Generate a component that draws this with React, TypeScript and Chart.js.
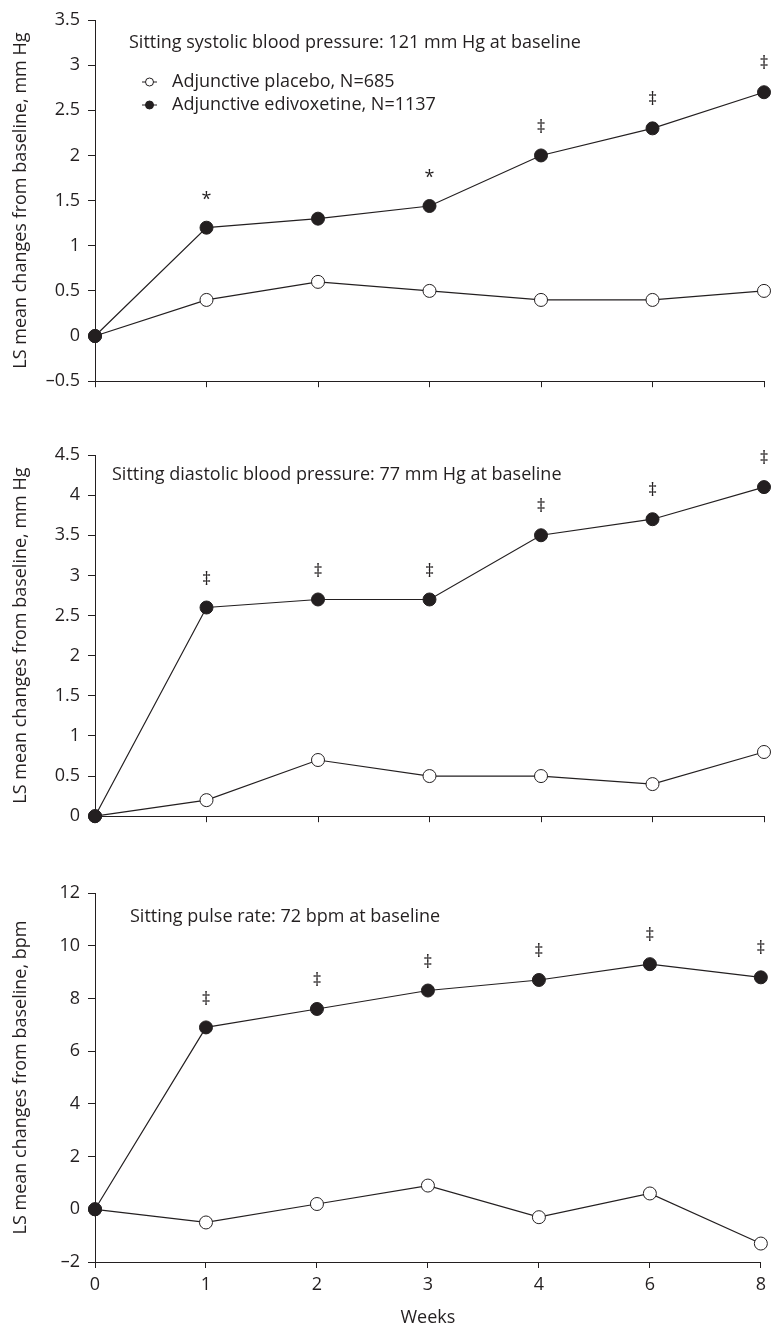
import React, { useEffect, useRef } from 'react';
import { Chart, registerables } from 'chart.js';
Chart.register(...registerables);

const weeks = ['0', '1', '2', '3', '4', '6', '8'];

const sysPlacebo = [0, 0.4, 0.6, 0.5, 0.4, 0.4, 0.5];
const sysEdivox = [0, 1.2, 1.3, 1.44, 2.0, 2.3, 2.7];
const sysMarks = ['', '*', '', '*', '‡', '‡', '‡'];

const diaPlacebo = [0, 0.2, 0.7, 0.5, 0.5, 0.4, 0.8];
const diaEdivox = [0, 2.6, 2.7, 2.7, 3.5, 3.7, 4.1];
const diaMarks = ['', '‡', '‡', '‡', '‡', '‡', '‡'];

const pulsePlacebo = [0, -0.5, 0.2, 0.9, -0.3, 0.6, -1.3];
const pulseEdivox = [0, 6.9, 7.6, 8.3, 8.7, 9.3, 8.8];
const pulseMarks = ['', '‡', '‡', '‡', '‡', '‡', '‡'];

const placeboLabel = 'Adjunctive placebo, N=685';
const edivoxLabel = 'Adjunctive edivoxetine, N=1137';

const INK = '#231f20';
const FONT = '"Open Sans", sans-serif';
const FS = 18;

type Panel = {
  title: string;
  yTitle: string;
  min: number;
  max: number;
  step: number;
  placebo: number[];
  edivox: number[];
  marks: string[];
  legend: boolean;
  xLabels: boolean;
  top: number;
  height: number;
  xAxisHeight: number;
  titleDx: number;
  titleDy: number;
};

const panels: Panel[] = [
  {
    title: 'Sitting systolic blood pressure: 121 mm Hg at baseline',
    yTitle: 'LS mean changes from baseline, mm Hg',
    min: -0.5, max: 3.5, step: 0.5,
    placebo: sysPlacebo, edivox: sysEdivox, marks: sysMarks,
    legend: true, xLabels: false,
    top: 0, height: 400, xAxisHeight: 12, titleDx: 34, titleDy: 23,
  },
  {
    title: 'Sitting diastolic blood pressure: 77 mm Hg at baseline',
    yTitle: 'LS mean changes from baseline, mm Hg',
    min: 0, max: 4.5, step: 0.5,
    placebo: diaPlacebo, edivox: diaEdivox, marks: diaMarks,
    legend: false, xLabels: false,
    top: 435, height: 400, xAxisHeight: 12, titleDx: 17, titleDy: 20,
  },
  {
    title: 'Sitting pulse rate: 72 bpm at baseline',
    yTitle: 'LS mean changes from baseline, bpm',
    min: -2, max: 12, step: 2,
    placebo: pulsePlacebo, edivox: pulseEdivox, marks: pulseMarks,
    legend: false, xLabels: true,
    top: 873, height: 456, xAxisHeight: 67, titleDx: 35, titleDy: 24,
  },
];

function PanelChart({ p }: { p: Panel }) {
  const ref = useRef<HTMLCanvasElement>(null);
  useEffect(() => {
    if (!ref.current) return;
    const annot = {
      id: 'annot',
      afterDatasetsDraw(chart: any) {
        const ctx = chart.ctx;
        const a = chart.chartArea;
        ctx.save();
        ctx.fillStyle = INK;
        ctx.strokeStyle = INK;
        ctx.font = `${FS}px ${FONT}`;
        ctx.textBaseline = 'middle';
        ctx.textAlign = 'left';
        ctx.fillText(p.title, a.left + p.titleDx, a.top + p.titleDy);
        const meta = chart.getDatasetMeta(0);
        ctx.textAlign = 'center';
        p.marks.forEach((m, i) => {
          if (!m) return;
          const pt = meta.data[i];
          ctx.fillText(m, pt.x, pt.y - 28);
        });
        if (p.legend) {
          const rows = [
            { label: placeboLabel, fill: '#ffffff', dy: 62 },
            { label: edivoxLabel, fill: INK, dy: 85 },
          ];
          rows.forEach((r) => {
            const y = a.top + r.dy;
            ctx.lineWidth = 1;
            ctx.beginPath();
            ctx.moveTo(a.left + 47, y);
            ctx.lineTo(a.left + 62, y);
            ctx.stroke();
            ctx.beginPath();
            ctx.arc(a.left + 54.5, y, 4, 0, Math.PI * 2);
            ctx.fillStyle = r.fill;
            ctx.fill();
            ctx.stroke();
            ctx.fillStyle = INK;
            ctx.textAlign = 'left';
            ctx.fillText(r.label, a.left + 77, y);
          });
        }
        ctx.restore();
      },
    };
    const chart = new Chart(ref.current, {
      type: 'line',
      data: {
        labels: weeks,
        datasets: [
          {
            label: edivoxLabel,
            data: p.edivox,
            borderColor: INK,
            borderWidth: 1.2,
            backgroundColor: INK,
            pointBackgroundColor: INK,
            pointBorderColor: INK,
            pointBorderWidth: 1,
            pointRadius: 6.5,
            tension: 0,
            clip: false as any,
          },
          {
            label: placeboLabel,
            data: p.placebo,
            borderColor: INK,
            borderWidth: 1.2,
            backgroundColor: '#ffffff',
            pointBackgroundColor: '#ffffff',
            pointBorderColor: INK,
            pointBorderWidth: 1,
            pointRadius: 6.5,
            tension: 0,
            clip: false as any,
          },
        ],
      },
      options: {
        animation: false,
        responsive: false,
        maintainAspectRatio: false,
        layout: { padding: { top: 20, right: 8, bottom: 0, left: 0 } },
        plugins: { legend: { display: false }, tooltip: { enabled: false } },
        scales: {
          x: {
            type: 'category',
            offset: false,
            grid: { drawOnChartArea: false, drawTicks: true, tickLength: 6, color: INK, lineWidth: 1 },
            border: { display: true, color: INK, width: 1 },
            ticks: { display: p.xLabels, color: INK, font: { family: FONT, size: FS }, padding: 6, maxRotation: 0, autoSkip: false },
            title: { display: p.xLabels, text: 'Weeks', color: INK, font: { family: FONT, size: FS }, padding: { top: 0, bottom: 0 } },
            afterFit: (s: any) => { s.height = p.xAxisHeight; },
          },
          y: {
            min: p.min,
            max: p.max,
            grid: { drawOnChartArea: false, drawTicks: true, tickLength: 7, color: INK, lineWidth: 1 },
            border: { display: true, color: INK, width: 1 },
            ticks: {
              stepSize: p.step,
              color: INK,
              font: { family: FONT, size: FS },
              padding: 8,
              callback: (v: any) => String(Number(v)).replace('-', '\u2013'),
            },
            title: { display: true, text: p.yTitle, color: INK, font: { family: FONT, size: FS }, padding: { top: 10, bottom: 0 } },
            afterFit: (s: any) => { s.width = 95; },
          },
        },
      },
      plugins: [annot],
    });
    return () => chart.destroy();
  }, [p]);
  return (
    <canvas
      ref={ref}
      width={772}
      height={p.height}
      style={{ position: 'absolute', left: 0, top: p.top, width: 772, height: p.height }}
    />
  );
}

export default function App() {
  return (
    <div style={{ position: 'absolute', left: 0, top: 0, width: 772, height: 1329, background: '#ffffff' }}>
      {panels.map((p, i) => (
        <PanelChart key={i} p={p} />
      ))}
    </div>
  );
}
